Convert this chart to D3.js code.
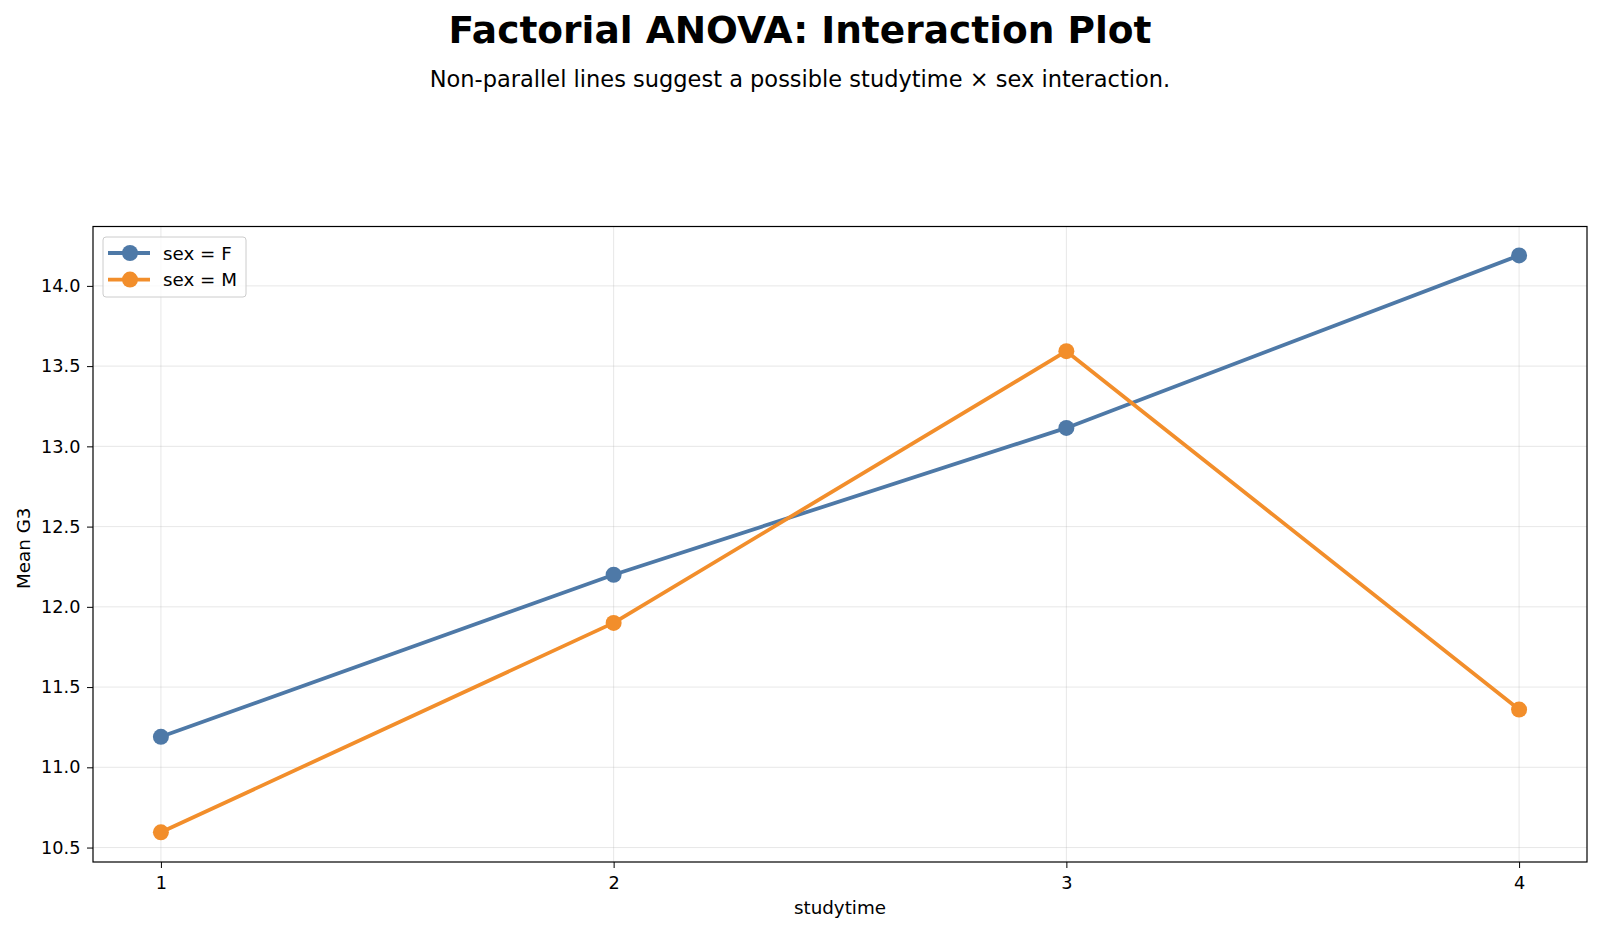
<!DOCTYPE html>
<html>
<head>
<meta charset="utf-8">
<script src="https://cdn.jsdelivr.net/npm/d3@7"></script>
<style>
  html, body { margin: 0; padding: 0; background: #fff; }
  svg text { font-family: "DejaVu Sans", sans-serif; fill: #000; }
</style>
</head>
<body>
<svg id="chart"></svg>
<script>
const studytime = [1, 2, 3, 4];
const meanF = [11.19, 12.2, 13.115, 14.19];
const meanM = [10.595, 11.9, 13.593, 11.36];
const yTicks = [10.5, 11.0, 11.5, 12.0, 12.5, 13.0, 13.5, 14.0];

const seriesList = [
  { label: "sex = F", values: meanF, color: "#4E79A7" },
  { label: "sex = M", values: meanM, color: "#F28E2B" },
];

const width = 1600;
const height = 932;
const margin = { top: 226.5, right: 13, bottom: 70, left: 93 };
const plotW = width - margin.left - margin.right;
const plotH = height - margin.top - margin.bottom;

const svg = d3.select("#chart").attr("width", width).attr("height", height);

svg.append("text")
  .attr("x", width / 2).attr("y", 43)
  .attr("text-anchor", "middle")
  .style("font-size", "37.5px").style("font-weight", "bold")
  .text("Factorial ANOVA: Interaction Plot");

svg.append("text")
  .attr("x", width / 2).attr("y", 87)
  .attr("text-anchor", "middle")
  .style("font-size", "22.5px")
  .text("Non-parallel lines suggest a possible studytime \u00d7 sex interaction.");

const chart = svg.append("g").attr("transform", "translate(" + margin.left + "," + margin.top + ")");

const x = d3.scaleLinear().domain([0.85, 4.15]).range([0, plotW]);
const y = d3.scaleLinear().domain([10.41, 14.37]).range([plotH, 0]);

// grid
chart.append("g").selectAll("line").data(studytime).enter().append("line")
  .attr("x1", d => x(d)).attr("x2", d => x(d))
  .attr("y1", 0).attr("y2", plotH)
  .attr("stroke", "#b0b0b0").attr("stroke-opacity", 0.3).attr("stroke-width", 1);
chart.append("g").selectAll("line").data(yTicks).enter().append("line")
  .attr("x1", 0).attr("x2", plotW)
  .attr("y1", d => y(d)).attr("y2", d => y(d))
  .attr("stroke", "#b0b0b0").attr("stroke-opacity", 0.3).attr("stroke-width", 1);

// axes
const xAxis = chart.append("g")
  .attr("transform", "translate(0," + plotH + ")")
  .call(d3.axisBottom(x).tickValues(studytime).tickFormat(d3.format("d")).tickSizeOuter(0).tickSize(6).tickPadding(8));
const yAxis = chart.append("g")
  .call(d3.axisLeft(y).tickValues(yTicks).tickFormat(d3.format(".1f")).tickSizeOuter(0).tickSize(6).tickPadding(6.5));
[xAxis, yAxis].forEach(function (ax) {
  ax.select(".domain").remove();
  ax.selectAll(".tick line").attr("stroke", "#000").attr("stroke-width", 1);
  ax.selectAll(".tick text").style("font-size", "17.7px").style("font-family", "DejaVu Sans, sans-serif").attr("fill", "#000");
});

// lines and markers
const line = d3.line().x((d, i) => x(studytime[i])).y(d => y(d));
seriesList.forEach(function (s) {
  chart.append("path")
    .datum(s.values)
    .attr("d", line)
    .attr("fill", "none")
    .attr("stroke", s.color)
    .attr("stroke-width", 3.8)
    .attr("stroke-linejoin", "round");
  chart.append("g").selectAll("circle").data(s.values).enter().append("circle")
    .attr("cx", (d, i) => x(studytime[i]))
    .attr("cy", d => y(d))
    .attr("r", 8)
    .attr("fill", s.color);
});

// frame
chart.append("rect")
  .attr("x", 0).attr("y", 0).attr("width", plotW).attr("height", plotH)
  .attr("fill", "none").attr("stroke", "#000").attr("stroke-width", 1.2);

// axis labels
chart.append("text")
  .attr("x", plotW / 2).attr("y", plotH + 52)
  .attr("text-anchor", "middle")
  .style("font-size", "18.3px")
  .text("studytime");
chart.append("text")
  .attr("transform", "rotate(-90)")
  .attr("x", -plotH / 2 - 4).attr("y", -63)
  .attr("text-anchor", "middle")
  .style("font-size", "18.3px")
  .text("Mean G3");

// legend
const legend = chart.append("g").attr("transform", "translate(10,10.5)");
legend.append("rect")
  .attr("x", 0).attr("y", 0).attr("width", 143).attr("height", 60).attr("rx", 3)
  .attr("fill", "#fff").attr("fill-opacity", 0.8)
  .attr("stroke", "#cccccc").attr("stroke-width", 1);
seriesList.forEach(function (s, i) {
  const row = legend.append("g").attr("transform", "translate(0," + (16 + i * 26.6) + ")");
  row.append("line").attr("x1", 5).attr("x2", 47).attr("y1", 0).attr("y2", 0)
    .attr("stroke", s.color).attr("stroke-width", 3.8);
  row.append("circle").attr("cx", 27).attr("cy", 0).attr("r", 8).attr("fill", s.color);
  row.append("text").attr("x", 60).attr("y", 6.6).style("font-size", "18.3px").text(s.label);
});
</script>
</body>
</html>
